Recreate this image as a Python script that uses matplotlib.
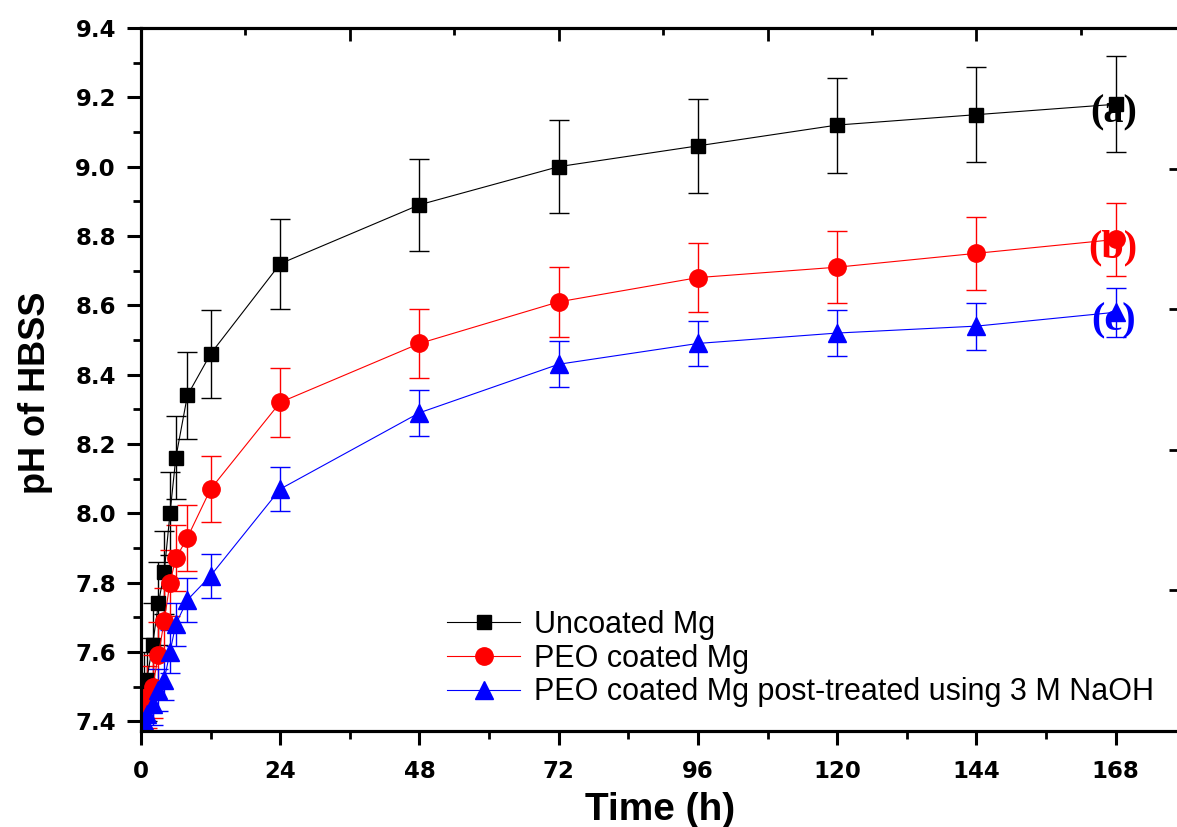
import matplotlib
matplotlib.use("Agg")
import matplotlib.pyplot as plt
from matplotlib.ticker import MultipleLocator, FixedLocator

# sampling times (h) and pH readings for each sample
time_h = [0.5, 1, 2, 3, 4, 5, 6, 8, 12, 24, 48, 72, 96, 120, 144, 168]

ph_uncoated = [7.48, 7.52, 7.62, 7.74, 7.83, 8.00, 8.16, 8.34, 8.46,
               8.72, 8.89, 9.00, 9.06, 9.12, 9.15, 9.18]
err_uncoated = [0.12, 0.12, 0.12, 0.12, 0.12, 0.12, 0.12, 0.125, 0.126,
                0.13, 0.133, 0.135, 0.135, 0.137, 0.137, 0.138]

ph_peo = [7.44, 7.47, 7.50, 7.59, 7.69, 7.80, 7.87, 7.93, 8.07,
          8.32, 8.49, 8.61, 8.68, 8.71, 8.75, 8.79]
err_peo = [0.09, 0.09, 0.09, 0.095, 0.095, 0.095, 0.095, 0.095, 0.096,
           0.10, 0.10, 0.10, 0.10, 0.104, 0.105, 0.105]

ph_naoh = [7.40, 7.42, 7.45, 7.49, 7.52, 7.60, 7.68, 7.75, 7.82,
           8.07, 8.29, 8.43, 8.49, 8.52, 8.54, 8.58]
err_naoh = [0.06, 0.06, 0.06, 0.06, 0.06, 0.062, 0.062, 0.063, 0.063,
            0.064, 0.066, 0.066, 0.066, 0.066, 0.068, 0.07]

labels = ["Uncoated Mg", "PEO coated Mg",
          "PEO coated Mg post-treated using 3 M NaOH"]
tags = ["(a)", "(b)", "(c)"]

plt.rcParams["font.family"] = "DejaVu Sans"

fig = plt.figure(figsize=(11.77, 8.27), dpi=100)
fig.patch.set_facecolor("white")
W, H = 1177, 827
ax = fig.add_axes([141 / W, 1 - 731 / H, (1180 - 141) / W, (731 - 28) / H])

styles = [
    dict(color="#000000", marker="s", ms=10.5),
    dict(color="#FF0000", marker="o", ms=12.5),
    dict(color="#0000FF", marker="^", ms=13.5),
]
series = [(ph_uncoated, err_uncoated), (ph_peo, err_peo), (ph_naoh, err_naoh)]

handles = []
for (vals, errs), st in zip(series, styles):
    c = ax.errorbar(time_h, vals, yerr=errs, color=st["color"],
                    marker=st["marker"], markersize=st["ms"],
                    markeredgecolor=st["color"], linewidth=0.8,
                    elinewidth=1.0, capsize=7, capthick=1.0, zorder=3)
    handles.append(c[0])

# end-of-curve tags
for vals, tag, st in zip(series, tags, styles):
    ax.text(167.6, vals[0][-1] - 0.025, tag, color=st["color"],
            fontfamily="Liberation Serif", fontweight="bold", fontsize=29,
            ha="center", va="center", zorder=5)

ax.set_xlim(0, 179.1)
ax.set_ylim(7.372, 9.40)

ax.xaxis.set_major_locator(FixedLocator([0, 24, 48, 72, 96, 120, 144, 168]))
ax.xaxis.set_minor_locator(FixedLocator([12, 36, 60, 84, 108, 132, 156]))
ax.yaxis.set_minor_locator(MultipleLocator(0.1))
ax.set_yticks([7.4 + 0.2 * i for i in range(11)])
ax.set_yticklabels([f"{7.4 + 0.2 * i:.1f}" for i in range(11)])

ax.tick_params(which="major", direction="out", length=10, width=2.2,
               labelsize=16.5, pad=8)
ax.tick_params(axis="x", which="major", pad=11)
ax.tick_params(which="minor", direction="out", length=5.5, width=2.0)
for lbl in ax.get_xticklabels() + ax.get_yticklabels():
    lbl.set_fontweight("bold")

for sp in ax.spines.values():
    sp.set_linewidth(2.2)

ax.set_xlabel("Time (h)", fontfamily="Liberation Sans", fontweight="bold",
              fontsize=28, labelpad=6)
ax.set_ylabel("pH of HBSS", fontfamily="Liberation Sans", fontweight="bold",
              fontsize=26)
ax.yaxis.set_label_coords(-0.085, 0.481)

# inward ticks on the top and right frame
top = ax.twiny()
top.set_xlim(ax.get_xlim())
top.xaxis.set_major_locator(FixedLocator([36, 72, 108, 144]))
top.xaxis.set_minor_locator(FixedLocator([18, 54, 90, 126, 162]))
top.tick_params(which="major", direction="in", length=9.5, width=2.0,
                labeltop=False)
top.tick_params(which="minor", direction="in", length=5, width=2.0)

right = ax.twinx()
right.set_ylim(0, 5)
right.yaxis.set_major_locator(FixedLocator([1, 2, 3, 4]))
right.yaxis.set_minor_locator(FixedLocator([]))
right.tick_params(which="major", direction="in", length=8, width=2.0,
                  labelright=False)
for a in (top, right):
    for sp in a.spines.values():
        sp.set_linewidth(2.2)

ax.legend(handles=handles, labels=labels, loc="upper left",
          bbox_to_anchor=(447 / W, 1 - 610 / H), bbox_transform=fig.transFigure,
          frameon=False, borderpad=0, borderaxespad=0, handlelength=2.4,
          handletextpad=0.45, labelspacing=0.12, numpoints=1,
          prop={"family": "Liberation Sans", "size": 22})

fig.savefig("out.png", dpi=100, facecolor="white")
